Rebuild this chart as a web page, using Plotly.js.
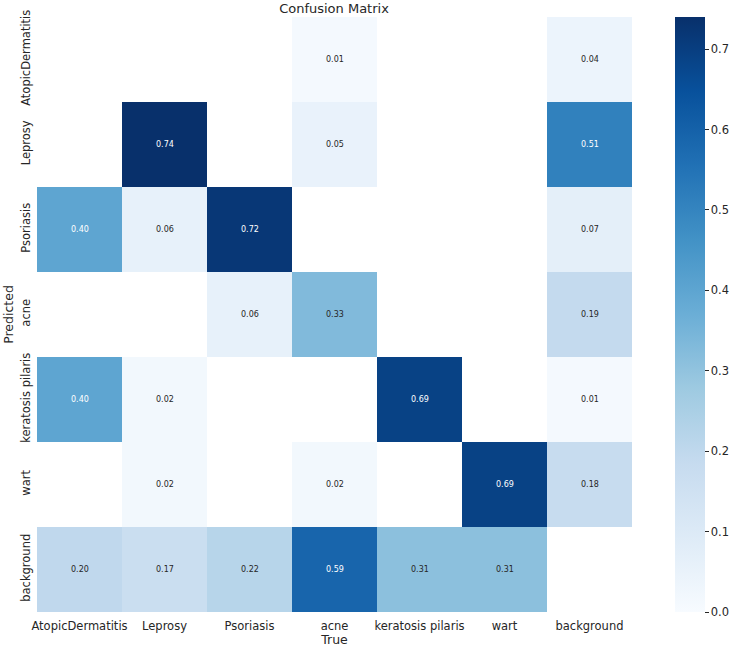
<!DOCTYPE html>
<html>
<head>
<meta charset="utf-8">
<script src="https://cdn.plot.ly/plotly-3.0.1.min.js"></script>
<style>
  html, body { margin: 0; padding: 0; background: #fff; }
  #chart { width: 733px; height: 647px; }
</style>
</head>
<body>
<div id="chart"></div>
<script>
// Class names (true label on x, predicted label on y)
const classes = ["AtopicDermatitis", "Leprosy", "Psoriasis", "acne", "keratosis pilaris", "wart", "background"];

// Normalised confusion matrix, one row per predicted class; null = empty cell
const rowAtopicDermatitis = [null, null, null, 0.01, null, null, 0.04];
const rowLeprosy          = [null, 0.74, null, 0.05, null, null, 0.51];
const rowPsoriasis        = [0.40, 0.06, 0.72, null, null, null, 0.07];
const rowAcne             = [null, null, 0.06, 0.33, null, null, 0.19];
const rowKeratosis        = [0.40, 0.02, null, null, 0.69, null, 0.01];
const rowWart             = [null, 0.02, null, 0.02, null, 0.69, 0.18];
const rowBackground       = [0.20, 0.17, 0.22, 0.59, 0.31, 0.31, null];

const matrix = [rowAtopicDermatitis, rowLeprosy, rowPsoriasis, rowAcne, rowKeratosis, rowWart, rowBackground];

// matplotlib "Blues"
const blues = [
  [0.000, "#f7fbff"], [0.125, "#deebf7"], [0.250, "#c6dbef"],
  [0.375, "#9ecae1"], [0.500, "#6baed6"], [0.625, "#4292c6"],
  [0.750, "#2171b5"], [0.875, "#08519c"], [1.000, "#08306b"]
];

const zmax = 0.74;
const font = "DejaVu Sans, sans-serif";
const ink = "#262626";

// Cell value labels, light text on dark cells
const annotations = [];
matrix.forEach((row, i) => {
  row.forEach((v, j) => {
    if (v === null) return;
    annotations.push({
      x: classes[j], y: classes[i], xref: "x", yref: "y",
      text: v.toFixed(2), showarrow: false,
      font: { family: font, size: 8, color: v / zmax > 0.5 ? "#ffffff" : ink }
    });
  });
});

const trace = {
  type: "heatmap",
  x: classes,
  y: classes,
  z: matrix,
  zmin: 0,
  zmax: zmax,
  colorscale: blues,
  hoverongaps: false,
  colorbar: {
    x: (675 - 37) / 595, xanchor: "left", xref: "paper", xpad: 0,
    y: 0.5, yanchor: "middle", len: 1, lenmode: "fraction", ypad: 0,
    thickness: 30, outlinewidth: 0,
    tickmode: "array",
    tickvals: [0, 0.1, 0.2, 0.3, 0.4, 0.5, 0.6, 0.7],
    ticktext: ["0.0", "0.1", "0.2", "0.3", "0.4", "0.5", "0.6", "0.7"],
    ticks: "outside", ticklen: 4, tickwidth: 1, tickcolor: ink,
    ticklabelstandoff: 2,
    tickfont: { family: font, size: 11.5, color: ink }
  }
};

const layout = {
  width: 733, height: 647,
  margin: { l: 37, r: 101, t: 17, b: 35, autoexpand: false },
  paper_bgcolor: "#ffffff", plot_bgcolor: "#ffffff",
  title: {
    text: "Confusion Matrix",
    x: (334 - 0) / 733, xanchor: "center",
    y: 1 - 8 / 647, yanchor: "middle", yref: "container",
    font: { family: font, size: 13, color: ink }
  },
  xaxis: {
    type: "category", showgrid: false, zeroline: false, showline: false,
    ticks: "", ticklabelstandoff: 5,
    tickfont: { family: font, size: 11.5, color: ink },
    title: { text: "True", standoff: 2, font: { family: font, size: 12.5, color: ink } }
  },
  yaxis: {
    type: "category", autorange: "reversed", showgrid: false, zeroline: false, showline: false,
    ticks: "", tickangle: -90, ticklabelstandoff: 4,
    tickfont: { family: font, size: 11.5, color: ink },
    title: { text: "Predicted", standoff: 2, font: { family: font, size: 12.5, color: ink } }
  },
  annotations: annotations
};

Plotly.newPlot("chart", [trace], layout, { displayModeBar: false, staticPlot: true });
</script>
</body>
</html>
